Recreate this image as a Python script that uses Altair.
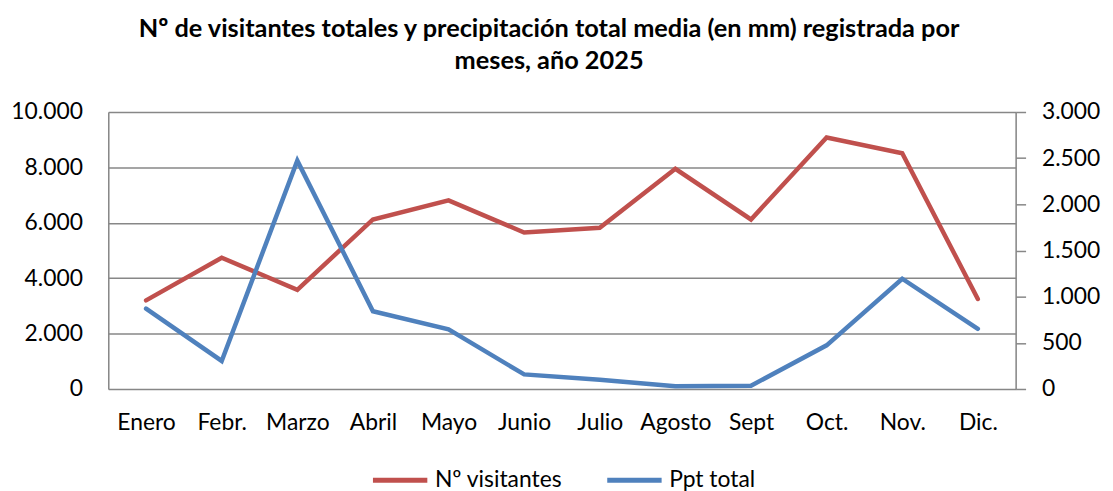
import altair as alt
import pandas as pd

meses = ["Enero", "Febr.", "Marzo", "Abril", "Mayo", "Junio", "Julio",
         "Agosto", "Sept", "Oct.", "Nov.", "Dic."]
visitantes = [3200, 4740, 3580, 6120, 6810, 5650, 5820, 7950, 6120, 9080, 8510, 3250]
ppt_total = [871, 304, 2473, 842, 645, 158, 100, 29, 35, 473, 1194, 652]
series = ["Nº visitantes", "Ppt total"]
colores = ["#C0504D", "#4F81BD"]

FONT = "Lato"
GRID = "#878787"
FS = 23

df_v = pd.DataFrame({"mes": meses, "valor": visitantes, "serie": series[0]})
df_p = pd.DataFrame({"mes": meses, "valor": ppt_total, "serie": series[1]})

x = alt.X("mes:N", sort=meses, title=None,
          scale=alt.Scale(type="point", padding=0.5),
          axis=alt.Axis(labelAngle=0, labelFont=FONT, labelFontSize=FS, labelColor="#000",
                        ticks=False, domain=False, labelPadding=23, grid=False))

color = alt.Color("serie:N", scale=alt.Scale(domain=series, range=colores),
                  legend=alt.Legend(title=None, orient="none", direction="horizontal",
                                    legendX=264, legendY=341, padding=0, symbolType="stroke",
                                    symbolStrokeWidth=5, symbolSize=3000,
                                    labelFont=FONT, labelFontSize=FS, labelColor="#000",
                                    columnPadding=34, symbolOffset=0, labelOffset=5))

lbl = "replace(format(datum.value, ','), ',', '.')"

left = alt.Chart(df_v).mark_line(strokeWidth=4.5, strokeCap="round").encode(
    x=x,
    y=alt.Y("valor:Q", title=None,
            scale=alt.Scale(domain=[0, 10000], nice=False),
            axis=alt.Axis(orient="left", values=[0, 2000, 4000, 6000, 8000, 10000],
                          labelExpr=lbl, labelFont=FONT, labelFontSize=FS, labelColor="#000",
                          ticks=False, tickSize=0, labelPadding=26,
                          domain=True, domainColor=GRID, domainWidth=1.5,
                          grid=True, gridColor=GRID, gridWidth=1.5)),
    color=color,
)

right = alt.Chart(df_p).mark_line(strokeWidth=4.5, strokeCap="round").encode(
    x=x,
    y=alt.Y("valor:Q", title=None,
            scale=alt.Scale(domain=[0, 3000], nice=False),
            axis=alt.Axis(orient="right", values=[0, 500, 1000, 1500, 2000, 2500, 3000],
                          labelExpr=lbl, labelFont=FONT, labelFontSize=FS, labelColor="#000",
                          ticks=True, tickSize=10, tickColor=GRID, tickWidth=1.5,
                          labelPadding=16,
                          domain=True, domainColor=GRID, domainWidth=1.5, grid=False)),
    color=color,
)

chart = alt.layer(left, right).resolve_scale(y="independent", color="shared").properties(
    width=914, height=279,
    autosize=alt.AutoSizeParams(type="none"),
    padding={"left": 101, "top": 103, "right": 90, "bottom": 101},
    title=alt.TitleParams(
        ["Nº de visitantes totales y precipitación total media (en mm) registrada por",
         "meses, año 2025"],
        font=FONT, fontSize=25.5, fontWeight="bold", color="#000",
        anchor="middle", offset=27, lineHeight=32, dx=-13),
).configure_view(stroke=None).configure(background="white")

chart.save("out.html", embed_options={"renderer": "svg", "actions": False})
